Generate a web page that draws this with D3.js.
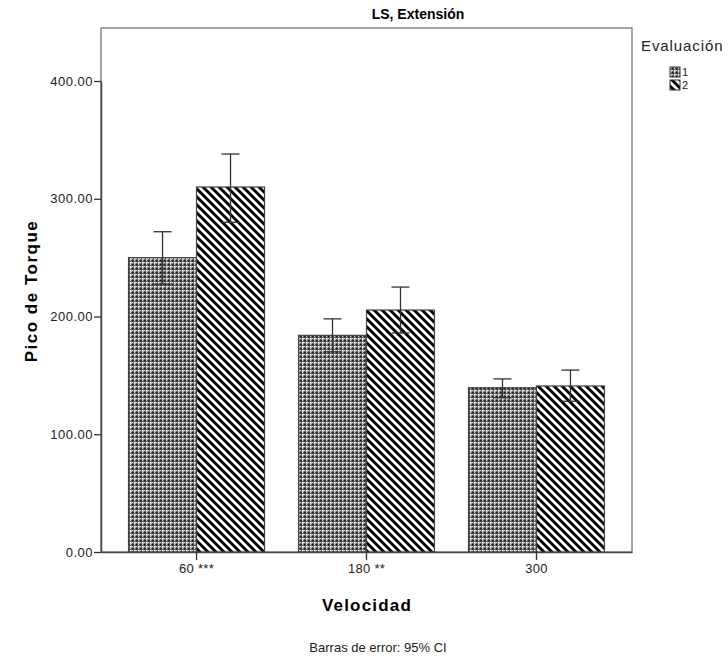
<!DOCTYPE html>
<html><head><meta charset="utf-8">
<script src="https://cdn.jsdelivr.net/npm/d3@7"></script>
<style>body{margin:0;background:#fff;} text{font-family:Arial, "Liberation Sans", sans-serif;}</style>
</head><body>
<svg id="c" width="728" height="659"></svg>
<script>
const categories = ["60 ***", "180 **", "300"];
const seriesNames = ["1", "2"];
const eval1 = [250, 184, 139.5];
const eval2 = [310, 205.5, 141];
const eval1Low = [227.5, 170, 131];
const eval1High = [272, 198, 147];
const eval2Low = [280, 186, 128];
const eval2High = [338, 225, 154.5];
const yTicks = [0, 100, 200, 300, 400];

const svg = d3.select("#c");
const L = 101, R = 632, T = 28, B = 552;
const defs = svg.append("defs");
const p1 = defs.append("pattern").attr("id","p1").attr("patternUnits","userSpaceOnUse").attr("width",4).attr("height",4);
p1.append("rect").attr("width",4).attr("height",4).attr("fill","#666");
p1.append("rect").attr("x",2).attr("y",2).attr("width",1.7).attr("height",1.7).attr("fill","#fff");
p1.append("rect").attr("x",0).attr("y",0).attr("width",1.5).attr("height",1.5).attr("fill","#111");
p1.append("rect").attr("x",2).attr("y",0).attr("width",1).attr("height",1).attr("fill","#ccc");
p1.append("rect").attr("x",0).attr("y",2).attr("width",1).attr("height",1).attr("fill","#ccc");
const p2 = defs.append("pattern").attr("id","p2").attr("patternUnits","userSpaceOnUse").attr("width",8).attr("height",8);
p2.append("rect").attr("width",8).attr("height",8).attr("fill","#fff");
p2.append("path").attr("d","M-1,-1 L9,9 M-3,5 L3,11 M5,-3 L11,3").attr("stroke","#000").attr("stroke-width",2.9);

const y = d3.scaleLinear().domain([0,400]).range([B,81]);
const x = d3.scaleBand().domain(categories).range([L,R]).paddingInner(0.2).paddingOuter(0.162);
const xs = d3.scaleBand().domain(seriesNames).range([0,x.bandwidth()]);

svg.append("rect").attr("x",L).attr("y",T).attr("width",R-L).attr("height",B-T).attr("fill","none").attr("stroke","#888").attr("stroke-width",1.5);

const series = [
 {name:"1", vals:eval1, lo:eval1Low, hi:eval1High, fill:"url(#p1)"},
 {name:"2", vals:eval2, lo:eval2Low, hi:eval2High, fill:"url(#p2)"}
];
series.forEach(s=>{
  svg.append("g").selectAll("rect").data(categories).join("rect")
   .attr("x",(c)=>x(c)+xs(s.name)).attr("width",xs.bandwidth())
   .attr("y",(c,i)=>y(s.vals[i])).attr("height",(c,i)=>B-y(s.vals[i]))
   .attr("fill",s.fill).attr("stroke","#444").attr("stroke-width",1.2);
});
series.forEach(s=>{
  const g = svg.append("g").attr("stroke","#333").attr("stroke-width",1.3);
  categories.forEach((c,i)=>{
    const cx = x(c)+xs(s.name)+xs.bandwidth()/2;
    g.append("line").attr("x1",cx).attr("x2",cx).attr("y1",y(s.lo[i])).attr("y2",y(s.hi[i]));
    g.append("line").attr("x1",cx-9).attr("x2",cx+9).attr("y1",y(s.lo[i])).attr("y2",y(s.lo[i]));
    g.append("line").attr("x1",cx-9).attr("x2",cx+9).attr("y1",y(s.hi[i])).attr("y2",y(s.hi[i]));
  });
});

const ff = "Arial, 'Liberation Sans', sans-serif";
const ya = svg.append("g").attr("transform",`translate(${L},0)`).call(d3.axisLeft(y).tickValues(yTicks).tickFormat(d3.format(".2f")).tickSize(7).tickSizeOuter(0));
ya.select(".domain").attr("stroke","#444").attr("stroke-width",1.5);
ya.selectAll(".tick line").attr("stroke","#333").attr("stroke-width",1.3);
ya.selectAll(".tick text").attr("font-size",13).attr("letter-spacing","0.5px").attr("fill","#222").attr("x",-8).attr("font-family",ff);
const xa = svg.append("g").attr("transform",`translate(0,${B})`).call(d3.axisBottom(x).tickSize(8).tickSizeOuter(0));
xa.select(".domain").attr("stroke","#444").attr("stroke-width",1.5);
xa.selectAll(".tick line").attr("stroke","#333").attr("stroke-width",1.3);
xa.selectAll(".tick text").attr("font-size",13).attr("letter-spacing","0.3px").attr("fill","#222").attr("y",12).attr("font-family",ff);

svg.append("text").attr("x",418).attr("y",19).attr("text-anchor","middle").attr("font-size",14).attr("font-weight","bold").text("LS, Extensión");
svg.append("text").attr("x",367).attr("y",611).attr("text-anchor","middle").attr("font-size",17).attr("letter-spacing","1.2px").attr("font-weight","bold").text("Velocidad");
svg.append("text").attr("transform","translate(37,291) rotate(-90)").attr("text-anchor","middle").attr("font-size",17).attr("letter-spacing","1.5px").attr("font-weight","bold").text("Pico de Torque");
svg.append("text").attr("x",378).attr("y",652).attr("text-anchor","middle").attr("font-size",13).attr("fill","#222").text("Barras de error: 95% CI");

svg.append("text").attr("x",641).attr("y",51).attr("font-size",15).attr("letter-spacing","0.9px").attr("fill","#222").text("Evaluación");
series.forEach((s,i)=>{
  svg.append("rect").attr("x",670).attr("y",67+i*13).attr("width",10).attr("height",10).attr("fill",s.fill).attr("stroke","#333").attr("stroke-width",1);
  svg.append("text").attr("x",682).attr("y",76+i*13).attr("font-size",11).attr("fill","#222").text(s.name);
});
</script>
</body></html>
